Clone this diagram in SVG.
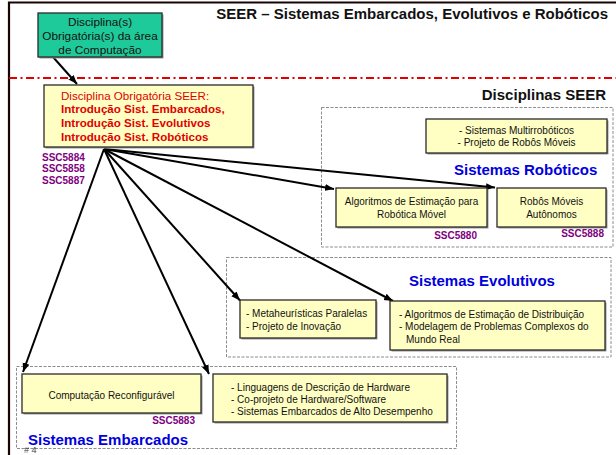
<svg xmlns="http://www.w3.org/2000/svg" width="616" height="455" viewBox="0 0 616 455">
  <style>
    text { font-family: "Liberation Sans", Arial, sans-serif; }
    .box { fill: #FFFFC4; stroke: #2a2a2a; stroke-width: 1.3; }
    .shadow { fill: #9a9a9a; }
    .group { fill: none; stroke: #808080; stroke-width: 0.9; stroke-dasharray: 3 1.5; }
    .t10 { font-size: 10px; fill: #111; }
    .code { font-size: 10px; font-weight: bold; fill: #800080; }
    .area { font-size: 15px; font-weight: bold; fill: #0000DD; }
    .red { fill: #E00000; font-size: 11.6px; }
    .link { fill: none; stroke: #000; stroke-width: 2; marker-end: url(#arrow); }
  </style>
  <defs>
    <marker id="arrow" markerUnits="userSpaceOnUse" markerWidth="10" markerHeight="8" refX="9" refY="4" orient="auto">
      <path d="M0,0.5 L9,4 L0,7.5 z" fill="#000"/>
    </marker>
  </defs>

  <rect width="616" height="455" fill="#fff"/>

  <!-- page frame -->
  <path d="M9,455 V2.5 H616" fill="none" stroke="#1a0505" stroke-width="2.2"/>

  <!-- title -->
  <text x="608" y="19" text-anchor="end" font-size="15" font-weight="bold" fill="#111">SEER – Sistemas Embarcados, Evolutivos e Robóticos</text>

  <!-- boundary between general and program courses -->
  <line x1="9" y1="78" x2="616" y2="78" stroke="#E00000" stroke-width="2" stroke-dasharray="8 3.5 2 3.5"/>

  <text x="606" y="99.5" text-anchor="end" font-size="15" font-weight="bold" fill="#111">Disciplinas SEER</text>

  <!-- area groups -->
  <g id="area-roboticos">
    <rect class="group" x="321.5" y="107.5" width="291.5" height="139.5"/>
    <text class="area" x="454" y="174.5">Sistemas Robóticos</text>
  </g>
  <g id="area-evolutivos">
    <rect class="group" x="226.5" y="257.5" width="384.5" height="99.5"/>
    <text class="area" x="409" y="285.5">Sistemas Evolutivos</text>
  </g>
  <g id="area-embarcados">
    <rect class="group" x="16.5" y="366.5" width="440" height="82"/>
    <text class="area" x="28" y="444.5">Sistemas Embarcados</text>
  </g>

  <!-- connectors -->
  <g id="connectors">
    <line class="link" x1="53" y1="57" x2="77" y2="84"/>
    <line class="link" x1="104" y1="149" x2="334" y2="189"/>
    <line class="link" x1="104" y1="149" x2="495" y2="187.5"/>
    <line class="link" x1="104" y1="149" x2="393" y2="301"/>
    <line class="link" x1="104" y1="149" x2="240" y2="300.5"/>
    <line class="link" x1="104" y1="149" x2="209" y2="374"/>
    <line class="link" x1="104" y1="149" x2="23" y2="372"/>
  </g>

  <!-- prerequisite -->
  <g id="computacao">
    <rect class="shadow" x="39.5" y="14.5" width="124" height="44"/>
    <rect x="38" y="13" width="124" height="44" fill="#1FCA9A" stroke="#2a2a2a" stroke-width="1.3"/>
    <text x="100" y="26" text-anchor="middle" font-size="11.8" fill="#111">Disciplina(s)</text>
    <text x="100" y="40" text-anchor="middle" font-size="11.8" fill="#111">Obrigatória(s) da área</text>
    <text x="100" y="54" text-anchor="middle" font-size="11.8" fill="#111">de Computação</text>
  </g>

  <!-- mandatory SEER course -->
  <g id="obrigatoria">
    <rect class="shadow" x="45.5" y="86.5" width="209" height="62"/>
    <rect class="box" x="44" y="85" width="209" height="62"/>
    <text class="red" x="61" y="100">Disciplina Obrigatória SEER:</text>
    <text class="red" x="61" y="113.3" font-weight="bold">Introdução Sist. Embarcados,</text>
    <text class="red" x="61" y="127" font-weight="bold">Introdução Sist. Evolutivos</text>
    <text class="red" x="61" y="141" font-weight="bold">Introdução Sist. Robóticos</text>
    <text class="code" x="42" y="160.5">SSC5884</text>
    <text class="code" x="42" y="172.3">SSC5858</text>
    <text class="code" x="42" y="184">SSC5887</text>
  </g>

  <!-- robotics -->
  <g id="multirroboticos">
    <rect class="shadow" x="427.5" y="120.5" width="181" height="34"/>
    <rect class="box" x="426" y="119" width="181" height="34"/>
    <text class="t10" x="516.5" y="134.3" text-anchor="middle">- Sistemas Multirrobóticos</text>
    <text class="t10" x="516.5" y="146.3" text-anchor="middle">- Projeto de Robôs Móveis</text>
  </g>
  <g id="estimacao-robotica">
    <rect class="shadow" x="337.5" y="189.5" width="151" height="39"/>
    <rect class="box" x="336" y="188" width="151" height="39"/>
    <text class="t10" x="411.5" y="205.3" text-anchor="middle">Algoritmos de Estimação para</text>
    <text class="t10" x="411.5" y="218" text-anchor="middle">Robótica Móvel</text>
    <text class="code" x="477" y="238.5" text-anchor="end">SSC5880</text>
  </g>
  <g id="robos-moveis">
    <rect class="shadow" x="498.5" y="189.5" width="109" height="39"/>
    <rect class="box" x="497" y="188" width="109" height="39"/>
    <text class="t10" x="551.5" y="205.3" text-anchor="middle">Robôs Móveis</text>
    <text class="t10" x="551.5" y="218" text-anchor="middle">Autônomos</text>
    <text class="code" x="604" y="236.5" text-anchor="end">SSC5888</text>
  </g>

  <!-- evolutionary -->
  <g id="metaheuristicas">
    <rect class="shadow" x="241.5" y="301.5" width="136" height="38"/>
    <rect class="box" x="240" y="300" width="136" height="38"/>
    <text class="t10" x="246" y="316.6">- Metaheurísticas Paralelas</text>
    <text class="t10" x="246" y="329.6">- Projeto de Inovação</text>
  </g>
  <g id="estimacao-distribuicao">
    <rect class="shadow" x="391.5" y="302.5" width="215" height="49"/>
    <rect class="box" x="390" y="301" width="215" height="49"/>
    <text class="t10" x="399" y="317.5">- Algoritmos de Estimação de Distribuição</text>
    <text class="t10" x="399" y="330">- Modelagem de Problemas Complexos do</text>
    <text class="t10" x="406" y="342.5">Mundo Real</text>
  </g>

  <!-- embedded -->
  <g id="reconfiguravel">
    <rect class="shadow" x="23.5" y="375.5" width="179" height="39"/>
    <rect class="box" x="22" y="374" width="179" height="39"/>
    <text class="t10" x="111.5" y="398.6" text-anchor="middle">Computação Reconfigurável</text>
    <text class="code" x="195" y="423.6" text-anchor="end">SSC5883</text>
  </g>
  <g id="hardware">
    <rect class="shadow" x="214.5" y="375.5" width="234" height="48"/>
    <rect class="box" x="213" y="374" width="234" height="48"/>
    <text class="t10" x="231" y="390.6">- Linguagens de Descrição de Hardware</text>
    <text class="t10" x="231" y="402.6">- Co-projeto de Hardware/Software</text>
    <text class="t10" x="231" y="414.6">- Sistemas Embarcados de Alto Desempenho</text>
  </g>

  <text x="24" y="452.5" font-size="9" fill="#444">#  4</text>
</svg>
